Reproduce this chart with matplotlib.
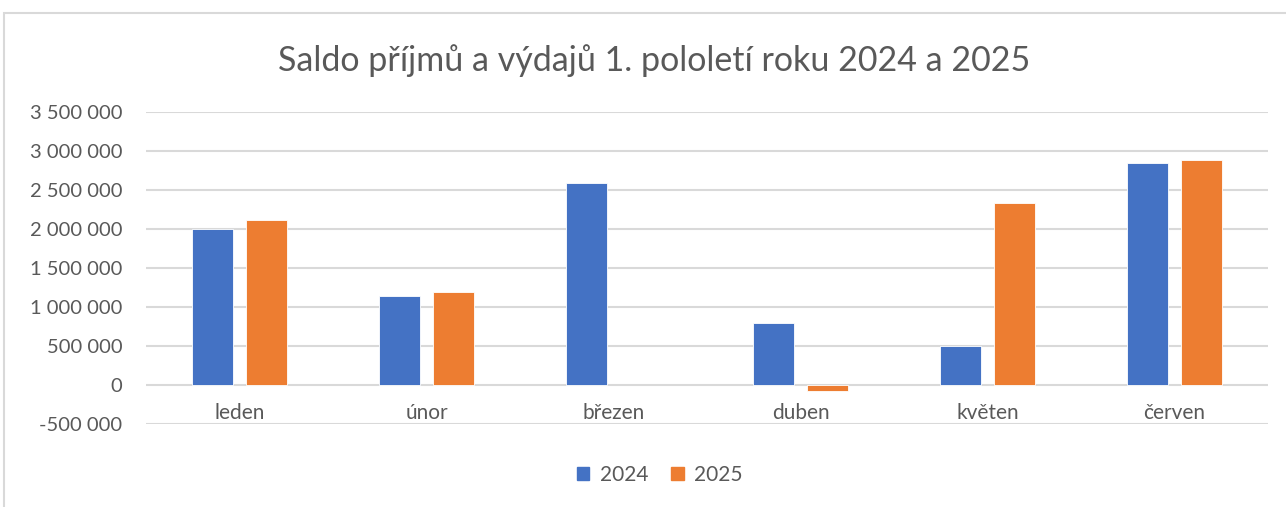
import numpy as np
from matplotlib import pyplot as plt
from matplotlib.patches import Rectangle, Patch
from matplotlib.ticker import FuncFormatter

months = ['leden', 'únor', 'březen', 'duben', 'květen', 'červen']
saldo_2024 = [2000000, 1135000, 2593000, 793000, 505000, 2850000]
saldo_2025 = [2110000, 1187000, np.nan, -80000, 2335000, 2883000]

blue = '#4472C4'
orange = '#ED7D31'
grey_txt = '#595959'
grid_col = '#D9D9D9'

plt.rcParams['font.family'] = ['Lato', 'DejaVu Sans']

fig = plt.figure(figsize=(12.86, 5.07), dpi=100)
ax = fig.add_axes([146/1286, 1-424/507, (1268-146)/1286, (424-112)/507])

# chart frame like the excel chart area
fig.patches.append(Rectangle((4/1286, -0.05), 1.1, 1-13/507+0.05, transform=fig.transFigure,
                             fill=False, edgecolor='#D9D9D9', linewidth=1.5))

x = np.arange(len(months))
w = 0.22
off = 0.143
ax.bar(x - off, saldo_2024, w, color=blue, edgecolor='white', linewidth=0.6, zorder=3)
ax.bar(x + off, saldo_2025, w, color=orange, edgecolor='white', linewidth=0.6, zorder=3)

ax.set_xlim(-0.5, len(months) - 0.5)
ax.set_ylim(-500000, 3500000)
ax.set_yticks(np.arange(-500000, 3500001, 500000))
ax.yaxis.set_major_formatter(FuncFormatter(lambda v, p: f'{int(v):,}'.replace(',', ' ')))
ax.grid(axis='y', color=grid_col, linewidth=1.5, zorder=0)
ax.set_axisbelow(True)

for s in ax.spines.values():
    s.set_visible(False)
ax.spines['bottom'].set_position(('data', 0))

ax.set_xticks(x)
ax.set_xticklabels(months)
ax.tick_params(axis='x', length=0, pad=13, labelsize=15, labelcolor=grey_txt)
ax.tick_params(axis='y', length=0, pad=17, labelsize=14.5, labelcolor=grey_txt)

fig.text(0.509, 1-61/507, 'Saldo příjmů a výdajů 1. pololetí roku 2024 a 2025',
         ha='center', va='center', fontsize=24.5, color=grey_txt)

handles = [Patch(color=blue, label='2024'), Patch(color=orange, label='2025')]
fig.legend(handles=handles, loc='center', bbox_to_anchor=(0.513, 1-475/507), ncol=2,
           frameon=False, fontsize=15, labelcolor=grey_txt, handlelength=0.6,
           handleheight=0.6, handletextpad=0.5, columnspacing=1.1)

fig.savefig('out.png', dpi=100)
